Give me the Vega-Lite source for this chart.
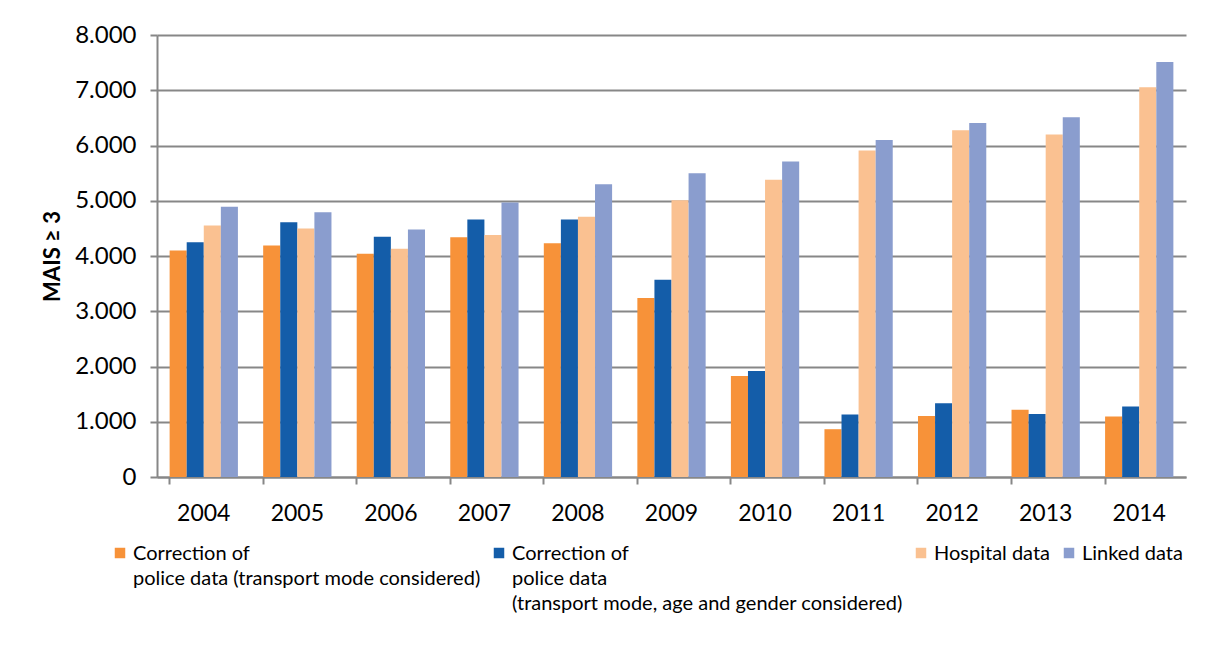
{
  "$schema": "https://vega.github.io/schema/vega-lite/v6.json",
  "width": 1029,
  "height": 442,
  "autosize": {"type": "none"},
  "padding": {"left": 157, "top": 35, "right": 42, "bottom": 178},
  "background": "white",
  "data": {
    "values": [
      {"year": "2004", "series": "Correction of police data (transport mode considered)", "value": 4100},
      {"year": "2004", "series": "Correction of police data (transport mode, age and gender considered)", "value": 4250},
      {"year": "2004", "series": "Hospital data", "value": 4550},
      {"year": "2004", "series": "Linked data", "value": 4890},
      {"year": "2005", "series": "Correction of police data (transport mode considered)", "value": 4190},
      {"year": "2005", "series": "Correction of police data (transport mode, age and gender considered)", "value": 4610},
      {"year": "2005", "series": "Hospital data", "value": 4500},
      {"year": "2005", "series": "Linked data", "value": 4790},
      {"year": "2006", "series": "Correction of police data (transport mode considered)", "value": 4040},
      {"year": "2006", "series": "Correction of police data (transport mode, age and gender considered)", "value": 4350},
      {"year": "2006", "series": "Hospital data", "value": 4130},
      {"year": "2006", "series": "Linked data", "value": 4480},
      {"year": "2007", "series": "Correction of police data (transport mode considered)", "value": 4340},
      {"year": "2007", "series": "Correction of police data (transport mode, age and gender considered)", "value": 4660},
      {"year": "2007", "series": "Hospital data", "value": 4380},
      {"year": "2007", "series": "Linked data", "value": 4970},
      {"year": "2008", "series": "Correction of police data (transport mode considered)", "value": 4230},
      {"year": "2008", "series": "Correction of police data (transport mode, age and gender considered)", "value": 4660},
      {"year": "2008", "series": "Hospital data", "value": 4710},
      {"year": "2008", "series": "Linked data", "value": 5300},
      {"year": "2009", "series": "Correction of police data (transport mode considered)", "value": 3240},
      {"year": "2009", "series": "Correction of police data (transport mode, age and gender considered)", "value": 3570},
      {"year": "2009", "series": "Hospital data", "value": 5010},
      {"year": "2009", "series": "Linked data", "value": 5500},
      {"year": "2010", "series": "Correction of police data (transport mode considered)", "value": 1830},
      {"year": "2010", "series": "Correction of police data (transport mode, age and gender considered)", "value": 1920},
      {"year": "2010", "series": "Hospital data", "value": 5380},
      {"year": "2010", "series": "Linked data", "value": 5710},
      {"year": "2011", "series": "Correction of police data (transport mode considered)", "value": 865},
      {"year": "2011", "series": "Correction of police data (transport mode, age and gender considered)", "value": 1130},
      {"year": "2011", "series": "Hospital data", "value": 5910},
      {"year": "2011", "series": "Linked data", "value": 6100},
      {"year": "2012", "series": "Correction of police data (transport mode considered)", "value": 1105},
      {"year": "2012", "series": "Correction of police data (transport mode, age and gender considered)", "value": 1335},
      {"year": "2012", "series": "Hospital data", "value": 6275},
      {"year": "2012", "series": "Linked data", "value": 6405},
      {"year": "2013", "series": "Correction of police data (transport mode considered)", "value": 1215},
      {"year": "2013", "series": "Correction of police data (transport mode, age and gender considered)", "value": 1140},
      {"year": "2013", "series": "Hospital data", "value": 6200},
      {"year": "2013", "series": "Linked data", "value": 6510},
      {"year": "2014", "series": "Correction of police data (transport mode considered)", "value": 1095},
      {"year": "2014", "series": "Correction of police data (transport mode, age and gender considered)", "value": 1275},
      {"year": "2014", "series": "Hospital data", "value": 7055},
      {"year": "2014", "series": "Linked data", "value": 7510}
    ]
  },
  "mark": {"type": "bar"},
  "encoding": {
    "x": {
      "field": "year",
      "type": "nominal",
      "title": null,
      "scale": {"paddingInner": 0.27, "paddingOuter": 0.135},
      "axis": {
        "labelAngle": 0,
        "bandPosition": 0,
        "labelAlign": "center",
        "labelFontSize": 23,
        "labelPadding": 18,
        "labelColor": "#000000",
        "labelFont": "Lato",
        "tickSize": 7,
        "tickWidth": 2,
        "tickColor": "#878787",
        "domainColor": "#878787",
        "domainWidth": 2,
        "grid": false
      }
    },
    "xOffset": {
      "field": "series",
      "type": "nominal",
      "sort": [
        "Correction of police data (transport mode considered)",
        "Correction of police data (transport mode, age and gender considered)",
        "Hospital data",
        "Linked data"
      ]
    },
    "y": {
      "field": "value",
      "type": "quantitative",
      "title": "MAIS ≥ 3",
      "scale": {"domain": [0, 8000], "nice": false},
      "axis": {
        "values": [0, 1000, 2000, 3000, 4000, 5000, 6000, 7000, 8000],
        "labelExpr": "replace(format(datum.value, ',.0f'), ',', '.')",
        "labelFontSize": 24,
        "labelFont": "Lato",
        "labelColor": "#000000",
        "labelPadding": 14,
        "tickSize": 7,
        "tickWidth": 2,
        "tickColor": "#878787",
        "domainColor": "#878787",
        "domainWidth": 2,
        "grid": true,
        "gridColor": "#878787",
        "gridWidth": 2,
        "titleFont": "Lato",
        "titleFontSize": 22,
        "titleFontWeight": "bold",
        "titleColor": "#000000",
        "titlePadding": 10
      }
    },
    "color": {
      "field": "series",
      "type": "nominal",
      "scale": {
        "domain": [
          "Correction of police data (transport mode considered)",
          "Correction of police data (transport mode, age and gender considered)",
          "Hospital data",
          "Linked data"
        ],
        "range": ["#F79239", "#145DA9", "#FAC191", "#8A9DCE"]
      },
      "legend": {
        "title": null,
        "orient": "none",
        "legendX": -47,
        "legendY": 508,
        "direction": "horizontal",
        "columns": 4,
        "columnPadding": 8,
        "symbolType": "square",
        "symbolSize": 110,
        "symbolStrokeWidth": 0,
        "symbolOpacity": 1,
        "labelFont": "Lato",
        "labelFontSize": 20,
        "labelColor": "#000000",
        "labelLimit": 600,
        "labelOffset": 3,
        "labelBaseline": "top",
        "labelExpr": "datum.label == 'Correction of police data (transport mode considered)' ? ['Correction of', 'police data (transport mode considered)', ''] : datum.label == 'Correction of police data (transport mode, age and gender considered)' ? ['Correction of', 'police data', '(transport mode, age and gender considered)'] : [datum.label, '', '']",
        "encode": {
          "labels": {
            "update": {
              "dy": {"value": -9},
              "lineHeight": {"value": 25}
            }
          }
        }
      }
    }
  },
  "config": {
    "view": {"stroke": null},
    "font": "Lato"
  }
}
